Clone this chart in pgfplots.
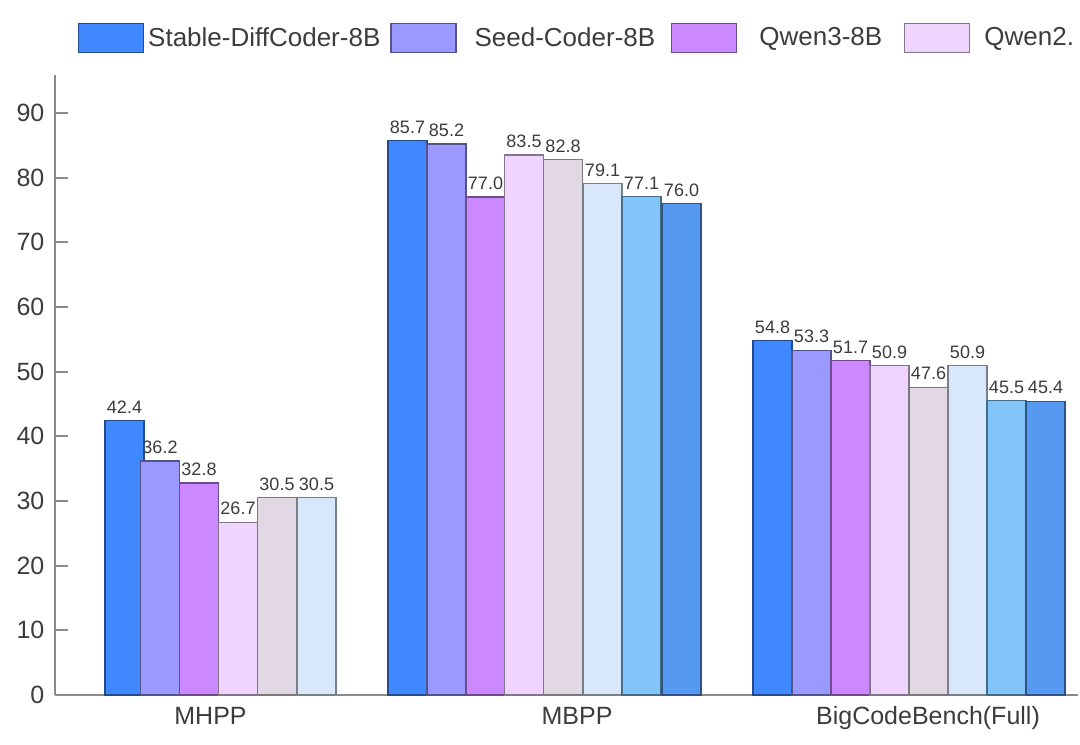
\documentclass[border=0pt]{standalone}
\usepackage{pgfplots}
\pgfplotsset{compat=1.18}
\usepackage{fontspec}
\setmainfont{Liberation Sans}

% bar colours
\definecolor{c1}{HTML}{4088FF}
\definecolor{c2}{HTML}{9999FF}
\definecolor{c3}{HTML}{CC88FF}
\definecolor{c4}{HTML}{EED4FF}
\definecolor{c5}{HTML}{E2D8E4}
\definecolor{c6}{HTML}{D8E8FA}
\definecolor{c7}{HTML}{80C4FA}
\definecolor{c8}{HTML}{5599F0}
\definecolor{txt}{HTML}{3C3C3C}
\definecolor{axl}{HTML}{8A8A8A}

\begin{document}
\begin{tikzpicture}
\pgfplotsset{
    mybar/.style={ybar, bar width=39, bar shift=0pt,
        fill=#1, draw=#1!55!black, line width=0.6pt,
        nodes near coords,
        every node near coord/.append style={font=\fontsize{9}{10}\selectfont, text=txt},
        legend image code/.code={\draw[fill=#1, draw=#1!55!black, line width=0.6pt] (0pt,-7.25pt) rectangle (32.5pt,7.25pt);}
    }
}
\begin{axis}[
    scale only axis,
    width=511.5pt, height=310pt,
    xmin=55, xmax=1078,
    ymin=0, ymax=95.88,
    axis x line*=bottom,
    axis y line*=left,
    axis line style={axl, line width=1pt},
    ytick={0,10,...,90},
    tick align=inside,
    major tick length=6.5pt,
    ytick style={axl, line width=1pt},
    xtick={210.5,577,928},
    xticklabels={MHPP, MBPP, BigCodeBench(Full)},
    x tick style={draw=none},
    xticklabel style={anchor=base, yshift=-14.5pt, font=\fontsize{12.5}{14}\selectfont, text=txt},
    yticklabel style={xshift=-1.8pt, font=\fontsize{12.5}{14}\selectfont, text=txt},
    /pgf/number format/assume math mode=true,
    /pgf/number format/fixed,
    /pgf/number format/fixed zerofill,
    /pgf/number format/precision=1,
    yticklabel={\pgfmathprintnumber[precision=0,fixed zerofill=false]{\tick}},
    legend columns=4,
    legend style={draw=none, fill=none, inner sep=0pt, outer sep=0pt,
        at={(axis cs:78,103.91)}, anchor=north west,
        font=\fontsize{13}{15}\selectfont, text=txt,
        nodes={inner sep=0pt},
        /tikz/every even column/.append style={column sep=5pt}},
    clip=false,
]
\addplot[mybar=c1] coordinates {(124.5,42.4) (407.5,85.7) (772.5,54.8)};
\addplot[mybar=c2] coordinates {(160,36.2) (446.5,85.2) (811.5,53.3)};
\addplot[mybar=c3] coordinates {(199,32.8) (485.5,77.0) (850.5,51.7)};
\addplot[mybar=c4] coordinates {(238,26.7) (524,83.5) (889.5,50.9)};
\addplot[mybar=c5] coordinates {(277,30.5) (563,82.8) (928.5,47.6)};
\addplot[mybar=c6] coordinates {(316.5,30.5) (602.5,79.1) (967.5,50.9)};
\addplot[mybar=c7] coordinates {(641.5,77.1) (1006.5,45.5)};
\addplot[mybar=c8] coordinates {(681.5,76.0) (1045.5,45.4)};
\legend{\kern2pt Stable-DiffCoder-8B, \kern9pt Seed-Coder-8B\kern3pt, \kern11pt Qwen3-8B\kern6pt, \kern7pt Qwen2.}
\end{axis}
\pgfresetboundingbox
\path[use as bounding box] (-27.5pt,-24.5pt) rectangle (512.5pt,347.5pt);
\end{tikzpicture}
\end{document}
